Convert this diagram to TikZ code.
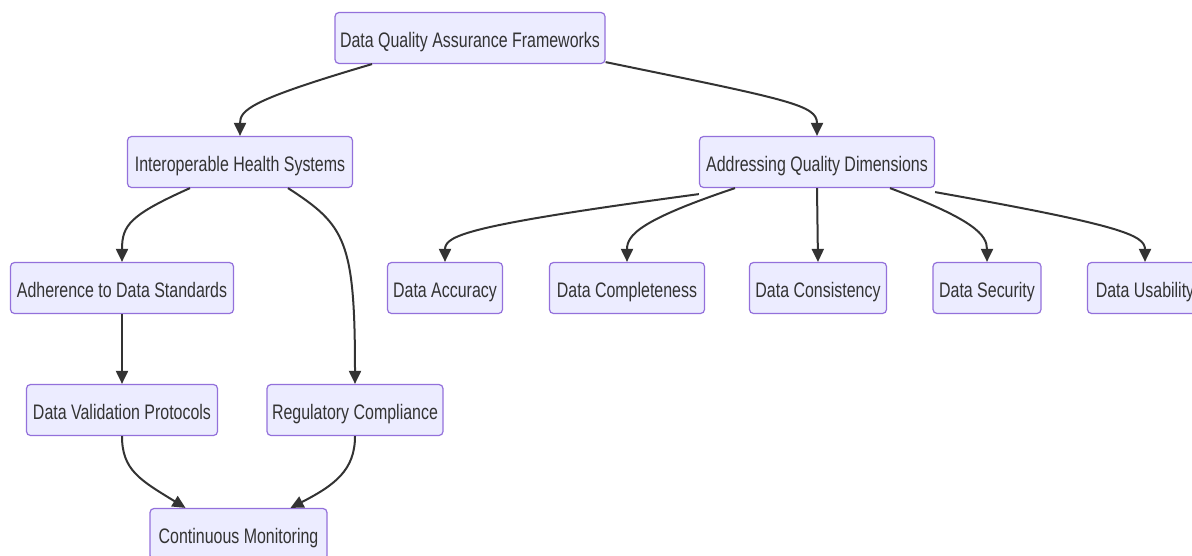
\documentclass[tikz,border=0pt]{standalone}
\usepackage{fontspec}
\setmainfont{Liberation Sans}[FakeStretch=0.76]
\usetikzlibrary{arrows.meta}
\definecolor{boxfill}{HTML}{ECECFF}
\definecolor{boxline}{HTML}{9370DB}
\definecolor{edgec}{HTML}{333333}
\definecolor{textc}{HTML}{333333}
\begin{document}
\begin{tikzpicture}[x=1pt,y=-1pt,
 box/.style={draw=boxline, fill=boxfill, line width=1.2pt, rounded corners=4pt, minimum height=51pt, inner sep=0pt, text height=19pt, text depth=0pt, font=\fontsize{21}{24}\selectfont, text=textc},
 edge/.style={draw=edgec, line width=2pt, -{Triangle[length=13pt,width=12pt]}}]
\useasboundingbox (0,0) rectangle (1192,555);
\node[box, minimum width=270pt] (top) at (470,38) {Data Quality Assurance Frameworks};
\node[box, minimum width=225pt] (int) at (240,162) {Interoperable Health Systems};
\node[box, minimum width=235pt] (addr) at (817,162) {Addressing Quality Dimensions};
\node[box, minimum width=223pt] (adh) at (122,288) {Adherence to Data Standards};
\node[box, minimum width=115pt] (acc) at (445,288) {Data Accuracy};
\node[box, minimum width=155pt] (comp) at (627,288) {Data Completeness};
\node[box, minimum width=137pt] (cons) at (818,288) {Data Consistency};
\node[box, minimum width=108pt] (sec) at (987,288) {Data Security};
\node[box, minimum width=115pt] (usab) at (1145,288) {Data Usability};
\node[box, minimum width=191pt] (val) at (122,410) {Data Validation Protocols};
\node[box, minimum width=176pt] (reg) at (355,410) {Regulatory Compliance};
\node[box, minimum width=177pt] (cont) at (238.5,534) {Continuous Monitoring};

\draw[edge] ([xshift=-98pt]top.south) .. controls (250,100) and (240,110) .. (int.north);
\draw[edge] ([yshift=2pt]top.south east) .. controls (790,100) and (817,105) .. (addr.north);
\draw[edge] ([xshift=-50pt]int.south) .. controls (130,215) and (122,225) .. (adh.north);
\draw[edge] ([xshift=48pt]int.south) .. controls (345,225) and (355,240) .. (reg.north);
\draw[edge] (adh.south) -- (val.north);
\draw[edge] (val.south) .. controls (122,470) and (140,480) .. ([xshift=-53pt]cont.north);
\draw[edge] (reg.south) .. controls (355,470) and (335,485) .. ([xshift=52pt]cont.north);
\draw[edge] ([yshift=-6pt]addr.south west) .. controls (470,225) and (445,235) .. (acc.north);
\draw[edge] ([xshift=-82pt]addr.south) .. controls (640,220) and (627,235) .. (comp.north);
\draw[edge] (addr.south) -- (cons.north);
\draw[edge] ([xshift=73pt]addr.south) .. controls (975,220) and (987,235) .. (sec.north);
\draw[edge] ([yshift=-4pt]addr.south east) .. controls (1120,225) and (1145,235) .. (usab.north);
\end{tikzpicture}
\end{document}
